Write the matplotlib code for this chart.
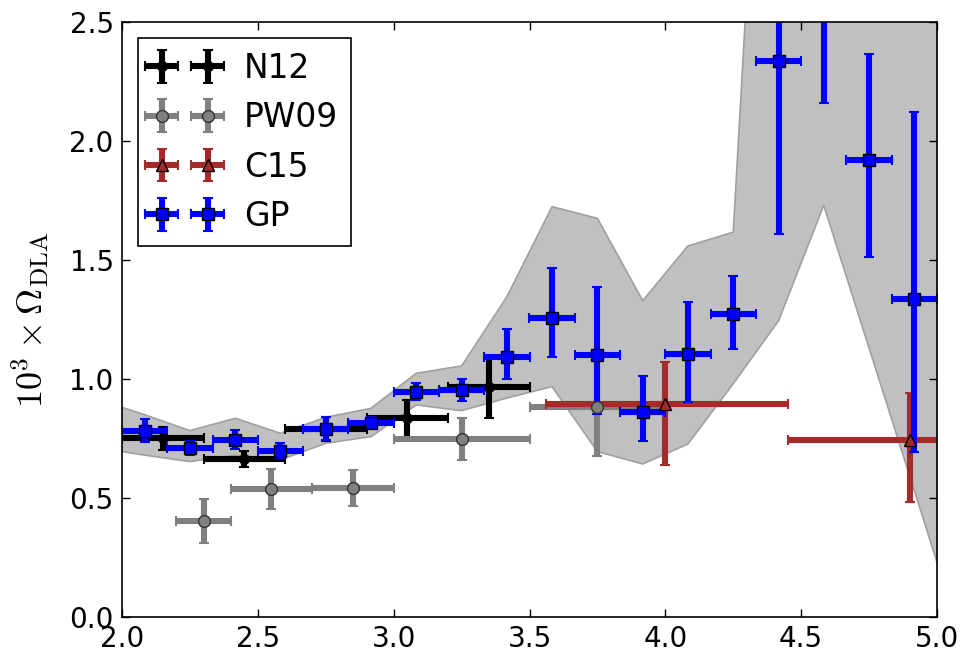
import matplotlib
matplotlib.use("Agg")
import matplotlib.pyplot as plt
import numpy as np

# ---------------- data ----------------
# GP band (68% region)
band_z = [2.0, 2.083, 2.25, 2.417, 2.583, 2.75, 2.917, 3.083, 3.25, 3.417,
          3.583, 3.75, 3.917, 4.083, 4.25, 4.417, 4.583, 4.75, 4.917, 5.0]
band_hi = [0.881, 0.85, 0.783, 0.835, 0.772, 0.839, 0.877, 1.024, 1.055, 1.346,
           1.724, 1.675, 1.329, 1.559, 1.617, 5.0, 5.5, 4.0, 3.5, 3.4]
band_lo = [0.695, 0.68, 0.653, 0.68, 0.66, 0.73, 0.758, 0.891, 0.867, 0.92,
           0.968, 0.695, 0.643, 0.727, 0.98, 1.245, 1.73, 1.13, 0.53, 0.23]

# GP binned points
gp_z = [2.083, 2.25, 2.417, 2.583, 2.75, 2.917, 3.083, 3.25, 3.417,
        3.583, 3.75, 3.917, 4.083, 4.25, 4.417, 4.583, 4.75, 4.917]
gp_zerr = [0.0833] * 18
gp_val = [0.783, 0.709, 0.744, 0.699, 0.789, 0.817, 0.947, 0.954, 1.094,
          1.256, 1.101, 0.860, 1.105, 1.272, 2.337, 2.95, 1.921, 1.335]
gp_lo = [0.047, 0.027, 0.040, 0.032, 0.047, 0.022, 0.037, 0.047, 0.095,
         0.163, 0.250, 0.119, 0.200, 0.147, 0.727, 0.79, 0.410, 0.640]
gp_hi = [0.047, 0.030, 0.042, 0.031, 0.050, 0.022, 0.036, 0.046, 0.115,
         0.211, 0.287, 0.154, 0.220, 0.162, 0.750, 0.80, 0.445, 0.788]

# N12
n12_z = [2.15, 2.45, 2.75, 3.05, 3.35]
n12_zerr = [0.15, 0.15, 0.15, 0.15, 0.15]
n12_val = [0.751, 0.664, 0.789, 0.835, 0.965]
n12_err = [0.048, 0.035, 0.050, 0.077, 0.13]

# PW09
pw_z = [2.3, 2.55, 2.85, 3.25, 3.75]
pw_zerr = [0.1, 0.15, 0.15, 0.25, 0.25]
pw_val = [0.405, 0.537, 0.541, 0.748, 0.881]
pw_err = [0.092, 0.085, 0.075, 0.090, 0.205]

# C15
c15_z = [4.0, 4.9]
c15_zlo = [0.44, 0.45]
c15_zhi = [0.45, 0.41]
c15_val = [0.895, 0.744]
c15_lo = [0.257, 0.26]
c15_hi = [0.175, 0.196]

# ---------------- plot ----------------
plt.rcParams['mathtext.fontset'] = 'cm'
plt.rcParams['font.family'] = ['DejaVu Sans']

fig = plt.figure(figsize=(9.73, 6.58), dpi=100)
ax = fig.add_axes([0.1254, 0.0623, 0.8376, 0.9043])

ax.fill_between(band_z, band_lo, band_hi, facecolor='silver',
                edgecolor='#a0a0a0', linewidth=1.2, zorder=1)

common = dict(elinewidth=4.4, capsize=3.8, capthick=1.5, linestyle='none')

ax.errorbar(n12_z, n12_val, xerr=n12_zerr, yerr=n12_err, color='black',
            marker='o', markersize=7, mec='black', label='N12', **common)
ax.errorbar(pw_z, pw_val, xerr=pw_zerr, yerr=pw_err, color='gray',
            ecolor='gray', marker='o', markersize=8.5, mfc='gray', mec='#333333',
            label='PW09', **common)
ax.errorbar(c15_z, c15_val, xerr=[c15_zlo, c15_zhi], yerr=[c15_lo, c15_hi],
            color='brown', marker='^', markersize=8.5, mfc='brown', mec='black',
            label='C15', **common)
ax.errorbar(gp_z, gp_val, xerr=gp_zerr, yerr=[gp_lo, gp_hi], color='blue',
            marker='s', markersize=8.5, mfc='blue', mec='black',
            label='GP', **common)

ax.set_xlim(2.0, 5.0)
ax.set_ylim(0.0, 2.5)
ax.set_xticks([2.0, 2.5, 3.0, 3.5, 4.0, 4.5, 5.0])
ax.set_yticks([0.0, 0.5, 1.0, 1.5, 2.0, 2.5])
ax.tick_params(direction='in', top=True, right=True, length=6, width=1,
               labelsize=20, pad=6)
for s in ax.spines.values():
    s.set_linewidth(1.2)

ax.set_ylabel(r'$10^3 \times \Omega_{\rm DLA}$', fontsize=26, labelpad=13)

leg = ax.legend(loc='upper left', numpoints=2, fontsize=23.7, fancybox=False,
                framealpha=1, edgecolor='black', borderaxespad=0.5,
                handlelength=2.0, labelspacing=0.5)
leg.get_frame().set_linewidth(1.2)

fig.savefig('out.png', dpi=100, facecolor='white')
